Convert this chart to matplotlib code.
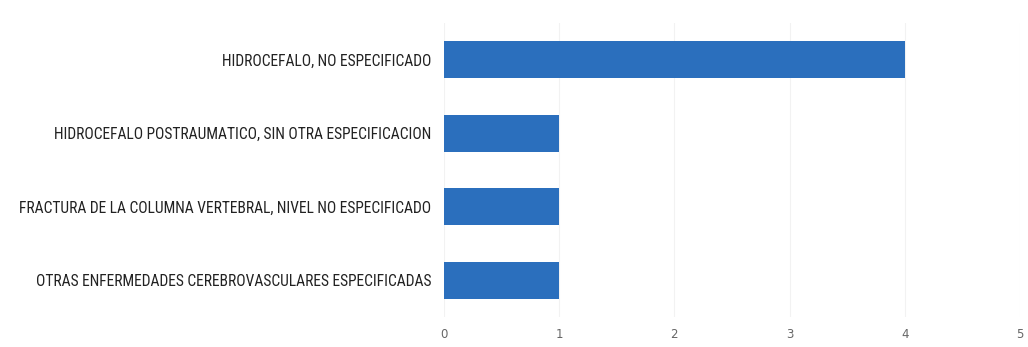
import matplotlib.pyplot as plt
import matplotlib.font_manager as fm

categorias = [
    'OTRAS ENFERMEDADES CEREBROVASCULARES ESPECIFICADAS',
    'FRACTURA DE LA COLUMNA VERTEBRAL, NIVEL NO ESPECIFICADO',
    'HIDROCEFALO POSTRAUMATICO, SIN OTRA ESPECIFICACION',
    'HIDROCEFALO, NO ESPECIFICADO',
]
casos = [1, 1, 1, 4]
ticks_x = [0, 1, 2, 3, 4, 5]

nombres = {f.name for f in fm.fontManager.ttflist}
fuente = 'Liberation Sans'
for cand in ['Liberation Sans Narrow', 'DejaVu Sans Condensed', 'Roboto Condensed']:
    if cand in nombres:
        fuente = cand
        break

fig = plt.figure(figsize=(10.28, 3.47), dpi=100)
ax = fig.add_axes([0.432, 0.0865, 0.56, 0.8475])

ax.barh(categorias, casos, height=0.5, color='#2B6FBD')
ax.set_xlim(0, 5)
ax.set_ylim(-0.5, 3.5)
ax.set_xticks(ticks_x)
ax.xaxis.grid(True, color='#f2f2f2', linewidth=0.8)
ax.set_axisbelow(True)

for s in ax.spines.values():
    s.set_visible(False)
ax.tick_params(axis='both', length=0)
ax.tick_params(axis='y', pad=9)
ax.tick_params(axis='x', pad=8, labelsize=8.5, labelcolor='#666666')

# ajustar tamano para que la etiqueta mas larga quepa (~415 px)
r = fig.canvas.get_renderer()
t = fig.text(0, 0, max(categorias, key=len), family=fuente, fontsize=10)
w = t.get_window_extent(r).width
t.remove()
tam = min(12, 10 * 414 / w)

for lbl in ax.get_yticklabels():
    lbl.set_fontfamily(fuente)
    lbl.set_fontsize(tam)
    lbl.set_color('#222222')

fig.savefig('out.png', dpi=100)
